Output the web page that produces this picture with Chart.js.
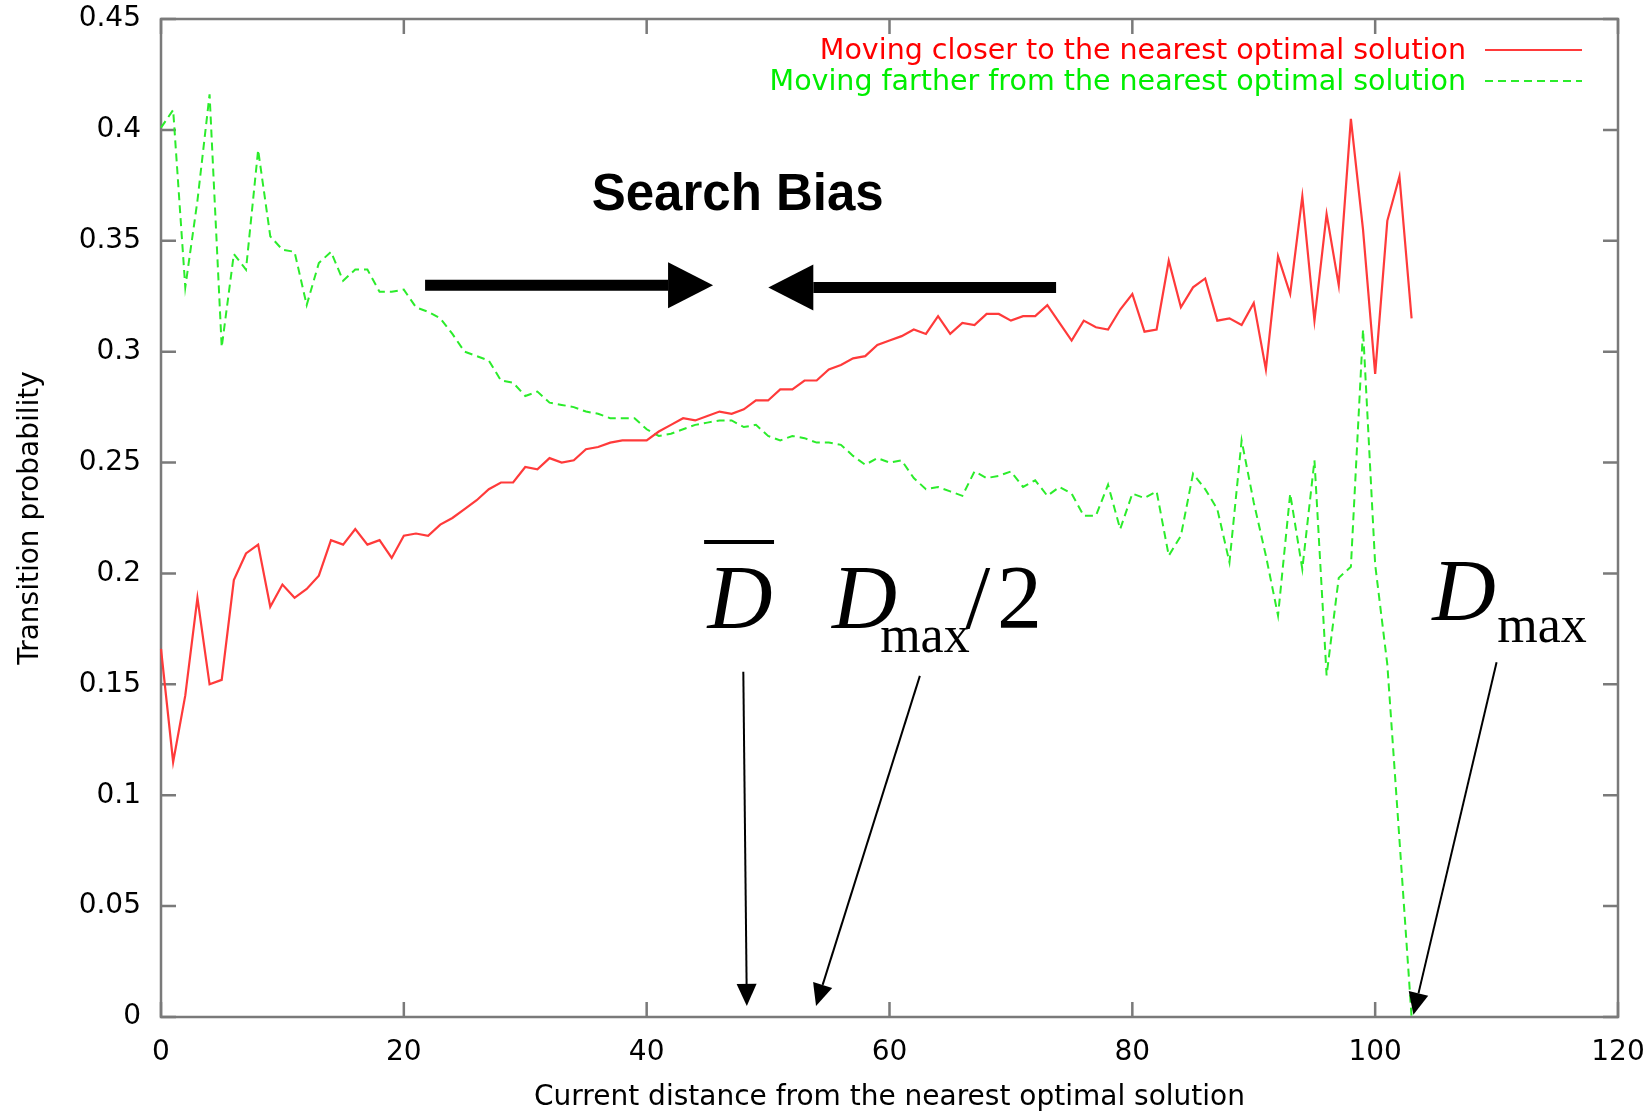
<!DOCTYPE html>
<html>
<head>
<meta charset="utf-8">
<title>Transition probability</title>
<script src="https://cdn.jsdelivr.net/npm/chart.js@4.4.1/dist/chart.umd.min.js"></script>
<style>
  html, body { margin: 0; padding: 0; background: #fff; }
  #wrap { width: 1651px; height: 1115px; }
</style>
</head>
<body>
<div id="wrap"><canvas id="chart" width="1651" height="1115"></canvas></div>
<script>
// Current distance from the nearest optimal solution
const distances = [
  0, 1, 2, 3, 4, 5, 6, 7, 8, 9,
  10, 11, 12, 13, 14, 15, 16, 17, 18, 19,
  20, 21, 22, 23, 24, 25, 26, 27, 28, 29,
  30, 31, 32, 33, 34, 35, 36, 37, 38, 39,
  40, 41, 42, 43, 44, 45, 46, 47, 48, 49,
  50, 51, 52, 53, 54, 55, 56, 57, 58, 59,
  60, 61, 62, 63, 64, 65, 66, 67, 68, 69,
  70, 71, 72, 73, 74, 75, 76, 77, 78, 79,
  80, 81, 82, 83, 84, 85, 86, 87, 88, 89,
  90, 91, 92, 93, 94, 95, 96, 97, 98, 99,
  100, 101, 102, 103
];

// transition probability of moving closer to the nearest optimum
const closerProb = [
  0.166, 0.115, 0.145, 0.189, 0.150, 0.152, 0.197, 0.209, 0.213, 0.185,
  0.195, 0.189, 0.193, 0.199, 0.215, 0.213, 0.220, 0.213, 0.215, 0.207,
  0.217, 0.218, 0.217, 0.222, 0.225, 0.229, 0.233, 0.238, 0.241, 0.241,
  0.248, 0.247, 0.252, 0.250, 0.251, 0.256, 0.257, 0.259, 0.260, 0.260,
  0.260, 0.264, 0.267, 0.270, 0.269, 0.271, 0.273, 0.272, 0.274, 0.278,
  0.278, 0.283, 0.283, 0.287, 0.287, 0.292, 0.294, 0.297, 0.298, 0.303,
  0.305, 0.307, 0.310, 0.308, 0.316, 0.308, 0.313, 0.312, 0.317, 0.317,
  0.314, 0.316, 0.316, 0.321, 0.313, 0.305, 0.314, 0.311, 0.310, 0.319,
  0.326, 0.309, 0.310, 0.341, 0.320, 0.329, 0.333, 0.314, 0.315, 0.312,
  0.322, 0.292, 0.343, 0.326, 0.370, 0.314, 0.362, 0.330, 0.405, 0.355,
  0.290, 0.359, 0.379, 0.315
];

// transition probability of moving farther away
const fartherProb = [
  0.401, 0.409, 0.329, 0.368, 0.416, 0.302, 0.344, 0.337, 0.391, 0.352,
  0.346, 0.345, 0.321, 0.340, 0.345, 0.332, 0.337, 0.337, 0.327, 0.327,
  0.328, 0.320, 0.318, 0.315, 0.308, 0.300, 0.298, 0.296, 0.287, 0.286,
  0.280, 0.282, 0.277, 0.276, 0.275, 0.273, 0.272, 0.270, 0.270, 0.270,
  0.265, 0.262, 0.263, 0.265, 0.267, 0.268, 0.269, 0.269, 0.266, 0.267,
  0.262, 0.260, 0.262, 0.261, 0.259, 0.259, 0.258, 0.253, 0.249, 0.252,
  0.250, 0.251, 0.243, 0.238, 0.239, 0.237, 0.235, 0.246, 0.243, 0.244,
  0.246, 0.239, 0.242, 0.235, 0.239, 0.236, 0.226, 0.226, 0.240, 0.220,
  0.236, 0.234, 0.237, 0.208, 0.217, 0.245, 0.238, 0.229, 0.205, 0.260,
  0.232, 0.208, 0.181, 0.236, 0.202, 0.251, 0.154, 0.198, 0.203, 0.310,
  0.204, 0.159, 0.080, 0.000
];

const xTicks = [0, 20, 40, 60, 80, 100, 120];
const yTicks = [0, 0.05, 0.1, 0.15, 0.2, 0.25, 0.3, 0.35, 0.4, 0.45];
const seriesLabels = [
  'Moving closer to the nearest optimal solution',
  'Moving farther from the nearest optimal solution'
];

const LABEL_FONT = '"DejaVu Sans", sans-serif';
const MATH_FONT = '"Liberation Serif", "DejaVu Serif", serif';

// gnuplot style box with inward tick marks on all four sides
const framePlugin = {
  id: 'gnuplotFrame',
  beforeDatasetsDraw(chart) {
    const { ctx, chartArea: a, scales: { x, y } } = chart;
    const len = 15;
    ctx.save();
    ctx.strokeStyle = '#7a7a7a';
    ctx.lineWidth = 2.5;
    ctx.strokeRect(a.left, a.top, a.right - a.left, a.bottom - a.top);
    ctx.beginPath();
    xTicks.forEach(v => {
      const px = x.getPixelForValue(v);
      ctx.moveTo(px, a.bottom); ctx.lineTo(px, a.bottom - len);
      ctx.moveTo(px, a.top); ctx.lineTo(px, a.top + len);
    });
    yTicks.forEach(v => {
      const py = y.getPixelForValue(v);
      ctx.moveTo(a.left, py); ctx.lineTo(a.left + len, py);
      ctx.moveTo(a.right, py); ctx.lineTo(a.right - len, py);
    });
    ctx.stroke();
    ctx.restore();
  }
};

// key in the top right corner: text right-aligned, line sample after it
const keyPlugin = {
  id: 'gnuplotKey',
  afterDatasetsDraw(chart) {
    const { ctx, chartArea: a } = chart;
    const textColors = ['#ff0000', '#00ee00'];
    ctx.save();
    ctx.font = '28.5px ' + LABEL_FONT;
    ctx.textAlign = 'right';
    ctx.textBaseline = 'middle';
    chart.data.datasets.forEach((ds, i) => {
      const rowY = a.top + 33 + i * 31;
      ctx.fillStyle = textColors[i];
      ctx.fillText(ds.label, a.right - 152, rowY);
      ctx.strokeStyle = ds.borderColor;
      ctx.lineWidth = ds.borderWidth;
      ctx.setLineDash(ds.borderDash || []);
      ctx.beginPath();
      ctx.moveTo(a.right - 133, rowY - 2);
      ctx.lineTo(a.right - 36, rowY - 2);
      ctx.stroke();
    });
    ctx.restore();
  }
};

function arrowHead(ctx, fx, fy, tx, ty, len, half) {
  const ang = Math.atan2(ty - fy, tx - fx);
  const bx = tx - Math.cos(ang) * len;
  const by = ty - Math.sin(ang) * len;
  ctx.beginPath();
  ctx.moveTo(tx, ty);
  ctx.lineTo(bx + Math.sin(ang) * half, by - Math.cos(ang) * half);
  ctx.lineTo(bx - Math.sin(ang) * half, by + Math.cos(ang) * half);
  ctx.closePath();
  ctx.fill();
  return [bx, by];
}

// "Search Bias" arrows and the D labels, placed in data units
const notesPlugin = {
  id: 'biasNotes',
  afterDatasetsDraw(chart) {
    const { ctx, scales: { x, y } } = chart;
    const P = (xv, yv) => [x.getPixelForValue(xv), y.getPixelForValue(yv)];
    ctx.save();
    ctx.fillStyle = '#000';
    ctx.strokeStyle = '#000';

    // title of the two thick arrows
    let [tx, ty] = P(47.5, 0.3638);
    ctx.font = 'bold 51px "Liberation Sans", Arial, sans-serif';
    ctx.textAlign = 'center';
    ctx.textBaseline = 'alphabetic';
    ctx.fillText('Search Bias', tx, ty);

    // thick arrows pointing at each other
    const thick = [
      { from: [21.75, 0.330], to: [45.47, 0.330] },
      { from: [73.72, 0.3289], to: [50.02, 0.3289] }
    ];
    thick.forEach(t => {
      const [fx, fy] = P(...t.from);
      const [ex, ey] = P(...t.to);
      const [bx, by] = arrowHead(ctx, fx, fy, ex, ey, 45, 23);
      ctx.lineWidth = 11;
      ctx.beginPath();
      ctx.moveTo(fx, fy);
      ctx.lineTo(bx, by);
      ctx.stroke();
    });

    // thin arrows down to the distance axis
    const thin = [
      { from: [47.96, 0.1557], to: [48.25, 0.005] },
      { from: [62.5, 0.1538], to: [53.95, 0.005] },
      { from: [110.0, 0.160], to: [103.15, 0.001] }
    ];
    thin.forEach(t => {
      const [fx, fy] = P(...t.from);
      const [ex, ey] = P(...t.to);
      const [bx, by] = arrowHead(ctx, fx, fy, ex, ey, 22, 10);
      ctx.lineWidth = 2;
      ctx.beginPath();
      ctx.moveTo(fx, fy);
      ctx.lineTo(bx, by);
      ctx.stroke();
    });

    ctx.textAlign = 'left';
    // mean distance, D with a bar
    ctx.font = 'italic 90px ' + MATH_FONT;
    [tx, ty] = P(45.0, 0.1754);
    ctx.fillText('D', tx, ty);
    const [ox1, oy] = P(44.73, 0.2142);
    const [ox2] = P(50.49, 0.2142);
    ctx.lineWidth = 4;
    ctx.beginPath();
    ctx.moveTo(ox1, oy);
    ctx.lineTo(ox2, oy);
    ctx.stroke();

    // D_max / 2
    [tx, ty] = P(55.27, 0.1754);
    ctx.fillText('D', tx, ty);
    ctx.font = '52px ' + MATH_FONT;
    [tx, ty] = P(59.23, 0.1646);
    ctx.fillText('max', tx, ty);
    ctx.font = '90px ' + MATH_FONT;
    [tx, ty] = P(66.23, 0.1754);
    ctx.fillText('/', tx, ty);
    [tx, ty] = P(68.86, 0.1754);
    ctx.fillText('2', tx, ty);

    // D_max
    ctx.font = 'italic 88px ' + MATH_FONT;
    [tx, ty] = P(104.7, 0.179);
    ctx.fillText('D', tx, ty);
    ctx.font = '52px ' + MATH_FONT;
    [tx, ty] = P(110.05, 0.1692);
    ctx.fillText('max', tx, ty);

    ctx.restore();
  }
};

const toPoints = vals => distances.map((d, i) => ({ x: d, y: vals[i] }));

// keep the plot box fixed: no extra room for overhanging tick labels
const fixX = s => { s.height = 98; s.paddingLeft = 0; s.paddingRight = 0; };
const fixY = s => { s.width = 161; s.paddingTop = 0; s.paddingBottom = 0; };

new Chart(document.getElementById('chart'), {
  type: 'line',
  data: {
    datasets: [
      {
        label: seriesLabels[0],
        data: toPoints(closerProb),
        borderColor: '#ff3a3a',
        borderWidth: 2.2,
        pointRadius: 0,
        tension: 0,
        clip: false
      },
      {
        label: seriesLabels[1],
        data: toPoints(fartherProb),
        borderColor: '#2bec2b',
        borderWidth: 2,
        borderDash: [8, 5],
        pointRadius: 0,
        tension: 0,
        clip: false
      }
    ]
  },
  options: {
    responsive: false,
    animation: false,
    layout: { padding: { top: 19, right: 33, left: 0, bottom: 0 } },
    plugins: { legend: { display: false }, tooltip: { enabled: false } },
    scales: {
      x: {
        type: 'linear',
        min: 0,
        max: 120,
        afterBuildTicks: s => { s.ticks = xTicks.map(v => ({ value: v })); },
        afterFit: fixX,
        grid: { display: false, drawTicks: false },
        border: { display: false },
        ticks: {
          color: '#000',
          padding: 19,
          maxRotation: 0,
          font: { family: LABEL_FONT, size: 28 },
          callback: v => String(v)
        },
        title: {
          display: true,
          text: 'Current distance from the nearest optimal solution',
          color: '#000',
          font: { family: LABEL_FONT, size: 28 },
          padding: { top: 0, bottom: 0 }
        }
      },
      y: {
        type: 'linear',
        min: 0,
        max: 0.45,
        afterBuildTicks: s => { s.ticks = yTicks.map(v => ({ value: v })); },
        afterFit: fixY,
        grid: { display: false, drawTicks: false },
        border: { display: false },
        ticks: {
          color: '#000',
          padding: 20,
          font: { family: LABEL_FONT, size: 28 },
          callback: v => String(parseFloat(v.toFixed(2)))
        },
        title: {
          display: true,
          text: 'Transition probability',
          color: '#000',
          font: { family: LABEL_FONT, size: 28 },
          padding: { top: 14, bottom: 0 }
        }
      }
    }
  },
  plugins: [framePlugin, keyPlugin, notesPlugin]
});
</script>
</body>
</html>
